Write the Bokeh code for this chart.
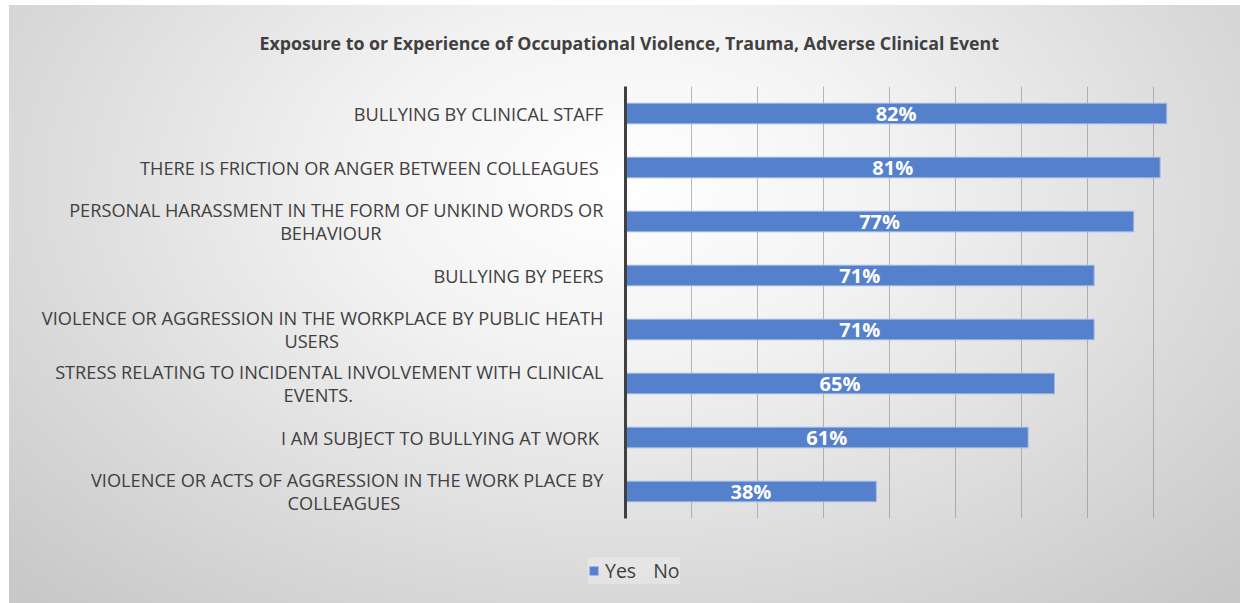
from bokeh.plotting import figure
from bokeh.models import (ColumnDataSource, FactorRange, Range1d, Title, Legend, LegendItem, FixedTicker)
from bokeh.layouts import column
from bokeh.core.properties import value
from bokeh.embed import file_html
from bokeh.resources import INLINE

# ---- data (top to bottom as shown) ----
categories = [
    "BULLYING BY CLINICAL STAFF",
    "THERE IS FRICTION OR ANGER BETWEEN COLLEAGUES ",
    "PERSONAL HARASSMENT IN THE FORM OF UNKIND WORDS OR\nBEHAVIOUR",
    "BULLYING BY PEERS",
    "VIOLENCE OR AGGRESSION IN THE WORKPLACE BY PUBLIC HEATH\nUSERS",
    "STRESS RELATING TO INCIDENTAL INVOLVEMENT WITH CLINICAL\nEVENTS.",
    "I AM SUBJECT TO BULLYING AT WORK ",
    "VIOLENCE OR ACTS OF AGGRESSION IN THE WORK PLACE BY\nCOLLEAGUES",
]
yes_values = [0.82, 0.81, 0.77, 0.71, 0.71, 0.65, 0.61, 0.38]
no_values = []
series_names = ["Yes", "No"]
grid_ticks = [0.1, 0.2, 0.3, 0.4, 0.5, 0.6, 0.7, 0.8, 0.9]
title_text = "Exposure to or Experience of Occupational Violence, Trauma, Adverse Clinical Event"

FONT = "Open Sans"
TXT = "#404040"
BLUE = "#5580CC"
EDGE = "#9fb6e4"
NBSP = "\u00a0"

# wrapped second lines are centred under the first line: pad them on the right
second_line_pad = {2: 47, 4: 56, 5: 53, 7: 43}
display_labels = [c + NBSP * second_line_pad.get(i, 0) for i, c in enumerate(categories)]
factors = list(reversed(display_labels))

src = ColumnDataSource(dict(
    cat=display_labels,
    val=yes_values,
    mid=[v / 2 for v in yes_values],
    lab=[f"{round(v*100)}%" for v in yes_values],
))

W = 1244
H1, H2 = 548, 55
FL, FR, FT, FB = 625, 1219, 85, 518

p = figure(
    width=W, height=H1,
    y_range=FactorRange(factors=factors, range_padding=0),
    x_range=Range1d(0, 0.9),
    output_backend="svg", toolbar_location=None,
    min_border_left=FL, min_border_right=W - FR,
    min_border_top=FT, min_border_bottom=H1 - FB,
    background_fill_alpha=0, border_fill_alpha=0,
    outline_line_color=None,
)

p.hbar(y="cat", right="val", left=0, height=0.38, source=src,
       fill_color=BLUE, line_color=EDGE, line_width=1)

p.text(x="mid", y="cat", text="lab", source=src,
       text_align="center", text_baseline="middle",
       text_color="white", text_font=value(FONT), text_font_style="bold",
       text_font_size="20px")

# axes
p.xaxis.visible = False
p.xaxis.ticker = FixedTicker(ticks=grid_ticks)
ya = p.yaxis[0]
ya.axis_line_color = "#404040"
ya.axis_line_width = 3
ya.major_tick_line_color = None
ya.minor_tick_line_color = None
ya.major_tick_out = 0
ya.major_tick_in = 0
ya.major_label_standoff = 22
ya.major_label_text_font = FONT
ya.major_label_text_font_size = "18.2px"
ya.major_label_text_color = TXT
ya.major_label_text_line_height = 0.95

p.ygrid.grid_line_color = None
p.xgrid.ticker = FixedTicker(ticks=grid_ticks)
p.xgrid.grid_line_color = "#8c8c8c"
p.xgrid.grid_line_alpha = 0.6
p.xgrid.grid_line_width = 1

# title
p.add_layout(Title(text=title_text, align="left", offset=-366,
                   vertical_align="top", standoff=60,
                   text_font=FONT, text_font_style="bold", text_font_size="17.8px",
                   text_color=TXT), "above")

# legend strip
lf = figure(width=W, height=H2, x_range=Range1d(0, W), y_range=Range1d(0, H2),
            output_backend="svg", toolbar_location=None,
            x_axis_location=None, y_axis_location=None,
            min_border=0, min_border_left=0, min_border_right=0,
            min_border_top=0, min_border_bottom=0,
            background_fill_alpha=0, border_fill_alpha=0, outline_line_color=None)
lf.frame_align = False
lf.grid.visible = False
nan = float("nan")
src_yes_leg = ColumnDataSource(dict(x=[nan], y=[nan]))
src_no_leg = ColumnDataSource(dict(x=[nan], y=[nan]))
r_yes = lf.rect(x="x", y="y", width=1, height=1, source=src_yes_leg,
                fill_color=BLUE, line_color=EDGE)
r_no = lf.rect(x="x", y="y", width=1, height=1, source=src_no_leg,
               fill_alpha=0, line_alpha=0)
legend = Legend(items=[LegendItem(label=series_names[0], renderers=[r_yes]),
                       LegendItem(label=series_names[1], renderers=[r_no])],
                orientation="horizontal", location=(588, 19),
                background_fill_color="#ffffff", background_fill_alpha=0.25,
                border_line_color=None, padding=12, margin=0, spacing=0,
                glyph_width=11, glyph_height=11, label_standoff=6,
                label_text_font=FONT, label_text_font_size="19.5px",
                label_text_color=TXT)
lf.add_layout(legend, "center")

layout = column(p, lf, spacing=0, styles={
    "background-color": "white",
    "background-image": "radial-gradient(ellipse 70% 95% at 50% 30%, #ffffff 0%, #f3f3f3 30%, #dadada 70%, #c8c8c8 100%)",
    "background-size": "1231px 598px",
    "background-position": "9px 5px",
    "background-repeat": "no-repeat",
})

open("out.html", "w").write(file_html(layout, INLINE))
